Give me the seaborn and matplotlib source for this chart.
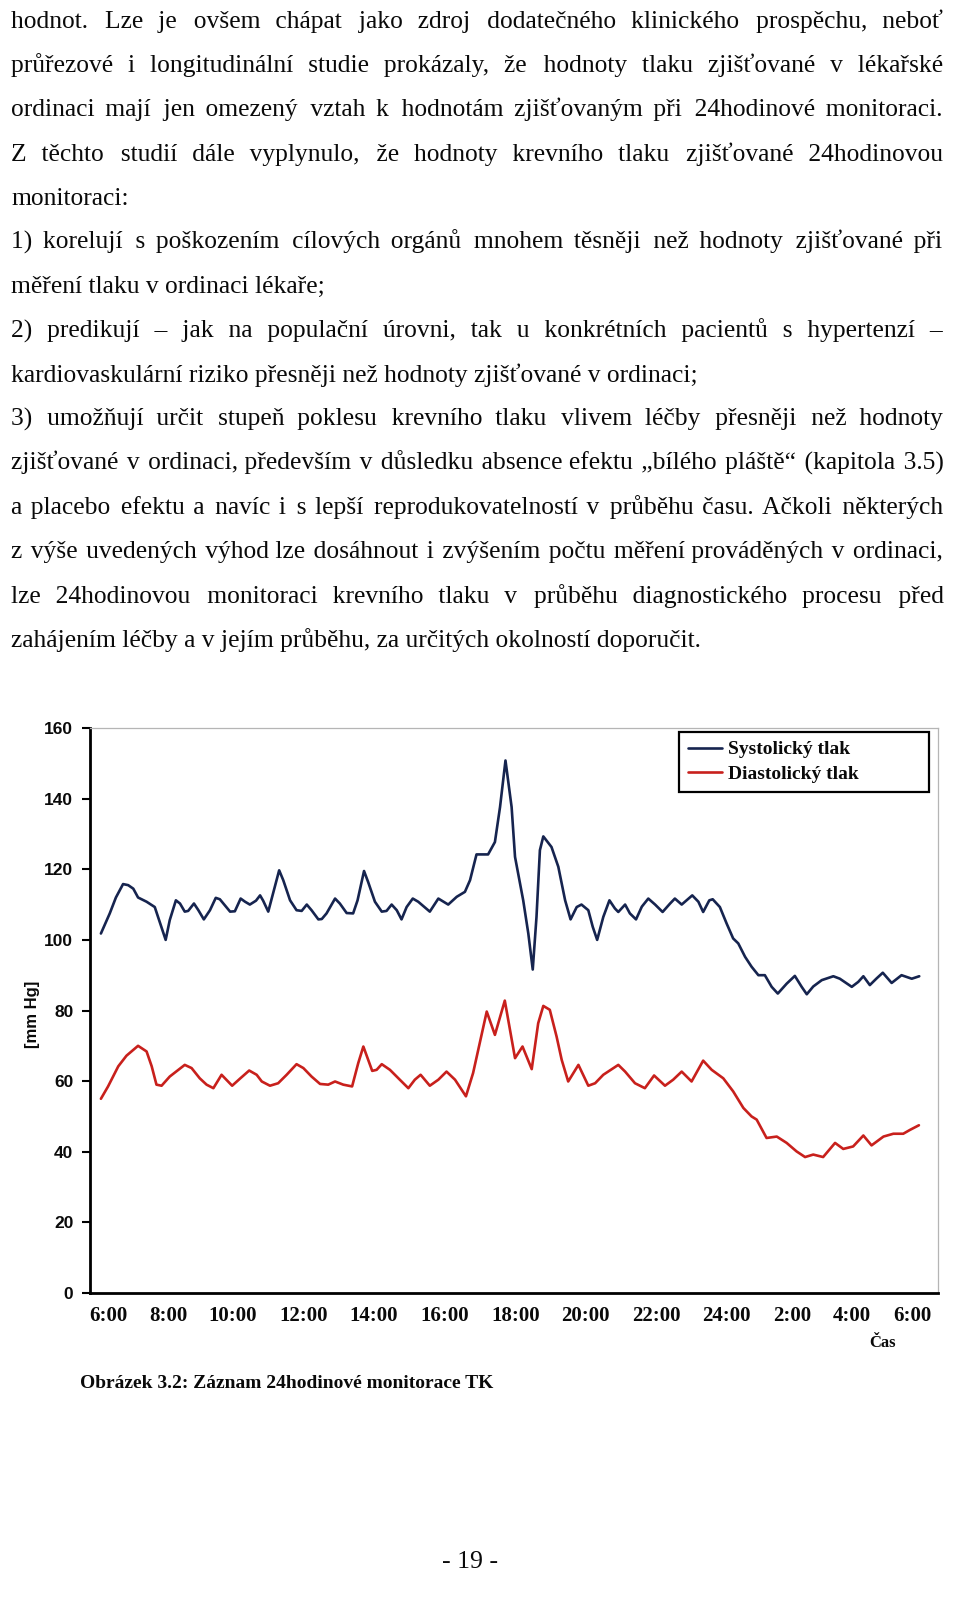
import matplotlib
matplotlib.use("Agg")
import matplotlib.pyplot as plt
import pandas as pd
import seaborn as sns

# ---------------- data ----------------
series_names = ["Systolický tlak", "Diastolický tlak"]

# hours since 6:00 (position along the time axis)
sys_hours = [0.0, 0.26, 0.44, 0.65, 0.80, 0.95, 1.09, 1.34, 1.58, 1.90,
             2.02, 2.20, 2.32, 2.46, 2.56, 2.73, 2.86, 3.02, 3.20, 3.37,
             3.49, 3.79, 3.93, 4.10, 4.23, 4.37, 4.55, 4.67, 4.76, 4.91,
             5.06, 5.23, 5.35, 5.55, 5.74, 5.89, 6.04, 6.18, 6.38, 6.48,
             6.62, 6.87, 7.01, 7.21, 7.40, 7.53, 7.72, 7.84, 8.04, 8.24,
             8.38, 8.53, 8.68, 8.82, 8.97, 9.15, 9.31, 9.65, 9.90, 10.19,
             10.44, 10.68, 10.83, 11.02, 11.36, 11.56, 11.71, 11.87, 12.05, 12.15,
             12.39, 12.54, 12.67, 12.78, 12.88, 12.98, 13.22, 13.42, 13.62, 13.78,
             13.96, 14.10, 14.30, 14.43, 14.56, 14.74, 14.92, 15.08, 15.18, 15.38,
             15.52, 15.70, 15.87, 16.06, 16.26, 16.48, 16.70, 16.84, 17.04, 17.35,
             17.53, 17.67, 17.85, 17.95, 18.16, 18.36, 18.55, 18.70, 18.90, 19.09,
             19.29, 19.48, 19.68, 19.86, 20.12, 20.36, 20.56, 20.71, 20.90, 21.15,
             21.49, 21.68, 22.03, 22.22, 22.37, 22.56, 22.76, 22.94, 23.20, 23.49,
             23.79, 24.01]
sys_values = [101.8, 107.5, 112, 115.8, 115.5, 114.5, 112, 110.8, 109.3, 100,
              105.6, 111.2, 110.3, 108, 108.2, 110.3, 108.4, 105.8, 108.4, 111.9,
              111.5, 108, 108.1, 111.7, 110.8, 110, 111.1, 112.6, 111.1, 108,
              113.5, 119.7, 116.9, 111.2, 108.4, 108.2, 110, 108.4, 105.8, 105.9,
              107.5, 111.7, 110.3, 107.6, 107.5, 111.2, 119.5, 116.4, 110.8, 108,
              108.2, 110, 108.4, 105.8, 109.3, 111.7, 110.8, 108, 111.7, 110,
              112.2, 113.6, 116.9, 124.2, 124.2, 127.7, 137.6, 150.8, 137.6, 123.5,
              111.2, 101.8, 91.6, 106.5, 125.4, 129.3, 126.3, 120.7, 111.2, 105.8,
              109.3, 110, 108.4, 103.7, 100, 106.5, 111.2, 108.9, 107.9, 110,
              107.5, 105.8, 109.4, 111.7, 110, 107.9, 110.3, 111.7, 110, 112.6,
              110.8, 107.9, 111.2, 111.5, 109.3, 104.6, 100.4, 99, 95.2, 92.4,
              90, 90, 86.7, 84.8, 87.6, 89.8, 86.7, 84.6, 86.8, 88.6,
              89.7, 89, 86.7, 88.1, 89.7, 87.2, 89.1, 90.7, 87.8, 90,
              89, 89.7]

dia_hours = [0.0, 0.21, 0.51, 0.75, 1.09, 1.34, 1.49, 1.63, 1.78, 2.02,
             2.46, 2.66, 2.90, 3.10, 3.30, 3.54, 3.85, 4.08, 4.35, 4.57,
             4.72, 4.96, 5.20, 5.45, 5.74, 5.94, 6.18, 6.43, 6.67, 6.87,
             7.11, 7.37, 7.55, 7.70, 7.96, 8.09, 8.24, 8.48, 8.77, 9.02,
             9.21, 9.38, 9.65, 9.90, 10.14, 10.39, 10.71, 10.92, 11.32, 11.56,
             11.85, 12.15, 12.37, 12.64, 12.83, 12.98, 13.17, 13.37, 13.52, 13.71,
             14.01, 14.30, 14.50, 14.74, 15.18, 15.38, 15.67, 15.96, 16.23, 16.55,
             16.79, 17.04, 17.33, 17.67, 17.92, 18.26, 18.55, 18.85, 19.09, 19.24,
             19.53, 19.83, 20.12, 20.41, 20.66, 20.90, 21.19, 21.54, 21.78, 22.07,
             22.37, 22.61, 22.96, 23.25, 23.54, 23.74, 24.00]
dia_values = [55, 58.5, 64.2, 67.2, 70, 68.4, 64.2, 59, 58.7, 61.3,
              64.6, 63.7, 60.8, 59, 58, 61.8, 58.7, 60.7, 63, 61.8,
              59.9, 58.7, 59.4, 61.8, 64.8, 63.7, 61.3, 59.2, 59, 59.9,
              59, 58.5, 65.1, 69.8, 62.9, 63.2, 64.8, 63.2, 60.4, 58,
              60.4, 61.8, 58.7, 60.4, 62.7, 60.4, 55.7, 62.3, 79.7, 73.1,
              82.8, 66.5, 69.8, 63.4, 76.4, 81.3, 80.2, 72.6, 66, 59.9,
              64.6, 58.7, 59.4, 61.8, 64.6, 62.7, 59.4, 58, 61.6, 58.7,
              60.4, 62.7, 59.9, 65.8, 63.2, 60.8, 57.1, 52.4, 50, 49.1,
              43.9, 44.3, 42.5, 40.1, 38.5, 39.2, 38.5, 42.5, 40.8, 41.5,
              44.6, 41.8, 44.3, 45.1, 45.1, 46.2, 47.5]

tick_hours = [0.21, 1.97, 3.87, 5.96, 8.01, 10.09, 12.18, 14.20, 16.29, 18.34, 20.28, 22.04, 23.80]
tick_labels = ["6:00", "8:00", "10:00", "12:00", "14:00", "16:00", "18:00",
               "20:00", "22:00", "24:00", "2:00", "4:00", "6:00"]
y_ticks = [0, 20, 40, 60, 80, 100, 120, 140, 160]

paragraph_lines = [
    "hodnot. Lze je ovšem chápat jako zdroj dodatečného klinického prospěchu, neboť",
    "průřezové i longitudinální studie prokázaly, že hodnoty tlaku zjišťované v lékařské",
    "ordinaci mají jen omezený vztah k hodnotám zjišťovaným při 24hodinové monitoraci.",
    "Z těchto studií dále vyplynulo, že hodnoty krevního tlaku zjišťované 24hodinovou",
    "monitoraci:",
    "1) korelují s poškozením cílových orgánů mnohem těsněji než hodnoty zjišťované při",
    "měření tlaku v ordinaci lékaře;",
    "2) predikují – jak na populační úrovni, tak u konkrétních pacientů s hypertenzí –",
    "kardiovaskulární riziko přesněji než hodnoty zjišťované v ordinaci;",
    "3) umožňují určit stupeň poklesu krevního tlaku vlivem léčby přesněji než hodnoty",
    "zjišťované v ordinaci, především v důsledku absence efektu „bílého pláště“ (kapitola 3.5)",
    "a placebo efektu a navíc i s lepší reprodukovatelností v průběhu času. Ačkoli některých",
    "z výše uvedených výhod lze dosáhnout i zvýšením počtu měření prováděných v ordinaci,",
    "lze 24hodinovou monitoraci krevního tlaku v průběhu diagnostického procesu před",
    "zahájením léčby a v jejím průběhu, za určitých okolností doporučit.",
]
justified = [True, True, True, True, False, True, False, True, False,
             True, True, True, True, True, False]

caption = "Obrázek 3.2: Záznam 24hodinové monitorace TK"
page_number = "- 19 -"
y_label = "[mm Hg]"
x_label = "Čas"

# ---------------- styling ----------------
sns.set_theme(style="white")
plt.rcParams["font.family"] = ["Liberation Serif", "DejaVu Serif"]

W, H = 960, 1610
fig = plt.figure(figsize=(W / 100, H / 100), dpi=100)
fig.patch.set_facecolor("white")

SERIF = ["Liberation Serif", "DejaVu Serif"]
SANS = ["Liberation Sans", "DejaVu Sans"]
INK = "#0a0a0a"

# ---------------- justified body text (one Text per line) ----------------
renderer = fig.canvas.get_renderer()
body_size = 18.4
left_px, right_px = 11, 943


def text_width(s):
    t = fig.text(0, 0, s, fontsize=body_size, family=SERIF)
    w = t.get_window_extent(renderer).width
    t.remove()
    return w


base_w = text_width("aa")
space_w = text_width("a a") - base_w
hair = "\u200a"
hair_w = text_width("a" + hair + "a") - base_w
if hair_w < 0.5:
    hair = "\u2009"
    hair_w = text_width("a" + hair + "a") - base_w

for i, (line, just) in enumerate(zip(paragraph_lines, justified)):
    base_px = 28 + 44.2 * i
    yf = 1 - base_px / H
    words = line.split(" ")
    if just and len(words) > 1:
        words_w = text_width("".join(words))
        n_gaps = len(words) - 1
        total_gap = (right_px - left_px) - words_w
        out = words[0]
        used = 0.0
        for k in range(1, len(words)):
            target = total_gap * k / n_gaps
            need = target - used
            n_sp = max(1, int(need // space_w))
            rest = need - n_sp * space_w
            n_h = max(0, int(round(rest / hair_w))) if hair_w > 0.5 else 0
            out += " " * n_sp + hair * n_h + words[k]
            used += n_sp * space_w + n_h * hair_w
        s = out
    else:
        s = line
    fig.text(left_px / W, yf, s, fontsize=body_size, family=SERIF,
             va="baseline", ha="left", color=INK)

# ---------------- chart ----------------
ax_left, ax_right, ax_top, ax_bottom = 90, 938, 728, 1293
ax = fig.add_axes([ax_left / W, 1 - ax_bottom / H,
                   (ax_right - ax_left) / W, (ax_bottom - ax_top) / H])
ax.set_facecolor("white")

sys_df = pd.DataFrame({"hodiny": sys_hours, "tlak": sys_values})
dia_df = pd.DataFrame({"hodiny": dia_hours, "tlak": dia_values})
colors = ["#16244f", "#c8201c"]

sns.lineplot(data=sys_df, x="hodiny", y="tlak", ax=ax, color=colors[0],
             linewidth=1.9, estimator=None, label=series_names[0], legend=False)
sns.lineplot(data=dia_df, x="hodiny", y="tlak", ax=ax, color=colors[1],
             linewidth=1.9, estimator=None, label=series_names[1], legend=False)
for ln in ax.lines:
    ln.set_solid_joinstyle("round")
    ln.set_solid_capstyle("round")

ax.set_xlim(-0.32, 24.56)
ax.set_ylim(0, 160)
ax.set_yticks(y_ticks)
ax.set_yticklabels([str(v) for v in y_ticks], family=SANS, fontweight="bold",
                   fontsize=12.5, color=INK)
ax.set_xticks(tick_hours)
ax.set_xticklabels(tick_labels, family=SERIF, fontweight="bold", fontsize=15, color=INK)
ax.tick_params(axis="y", direction="out", length=6, width=1.5, color="black", pad=6, left=True)
ax.tick_params(axis="x", length=0, pad=9, bottom=True)
ax.grid(False)

for side in ["left", "bottom"]:
    ax.spines[side].set_color("black")
    ax.spines[side].set_linewidth(2.0)
for side in ["top", "right"]:
    ax.spines[side].set_color("#b5b5b5")
    ax.spines[side].set_linewidth(0.9)

ax.set_xlabel("")
ax.set_ylabel(y_label, family=SANS, fontweight="bold", fontsize=12, color=INK, va="center")
ax.yaxis.set_label_coords((33 - ax_left) / (ax_right - ax_left),
                          (ax_bottom - 1014) / (ax_bottom - ax_top))

handles, labels = ax.get_legend_handles_labels()
leg_x0, leg_x1, leg_top = 679, 929, 732
leg = ax.legend(handles, labels, loc="upper left",
                bbox_to_anchor=((leg_x0 - ax_left) / (ax_right - ax_left),
                                (ax_bottom - leg_top) / (ax_bottom - ax_top) - 0.1,
                                (leg_x1 - leg_x0) / (ax_right - ax_left), 0.1),
                mode="expand", borderaxespad=0, frameon=True, fancybox=False,
                edgecolor="black", handlelength=1.75, handletextpad=0.3,
                borderpad=0.45, labelspacing=0.35,
                prop={"family": SERIF, "weight": "bold", "size": 14})
leg.get_frame().set_linewidth(1.6)
leg.get_frame().set_alpha(1)
for t in leg.get_texts():
    t.set_color(INK)

fig.text(883 / W, 1 - 1343 / H, x_label, family=SERIF, fontweight="bold",
         fontsize=12, ha="center", va="center", color=INK)
fig.text(80 / W, 1 - 1383 / H, caption, family=SERIF, fontweight="bold",
         fontsize=14, ha="left", va="center", color=INK)
fig.text(470 / W, 1 - 1562 / H, page_number, family=SERIF,
         fontsize=18.5, ha="center", va="center", color=INK)

fig.savefig("out.png", dpi=100, facecolor="white")
